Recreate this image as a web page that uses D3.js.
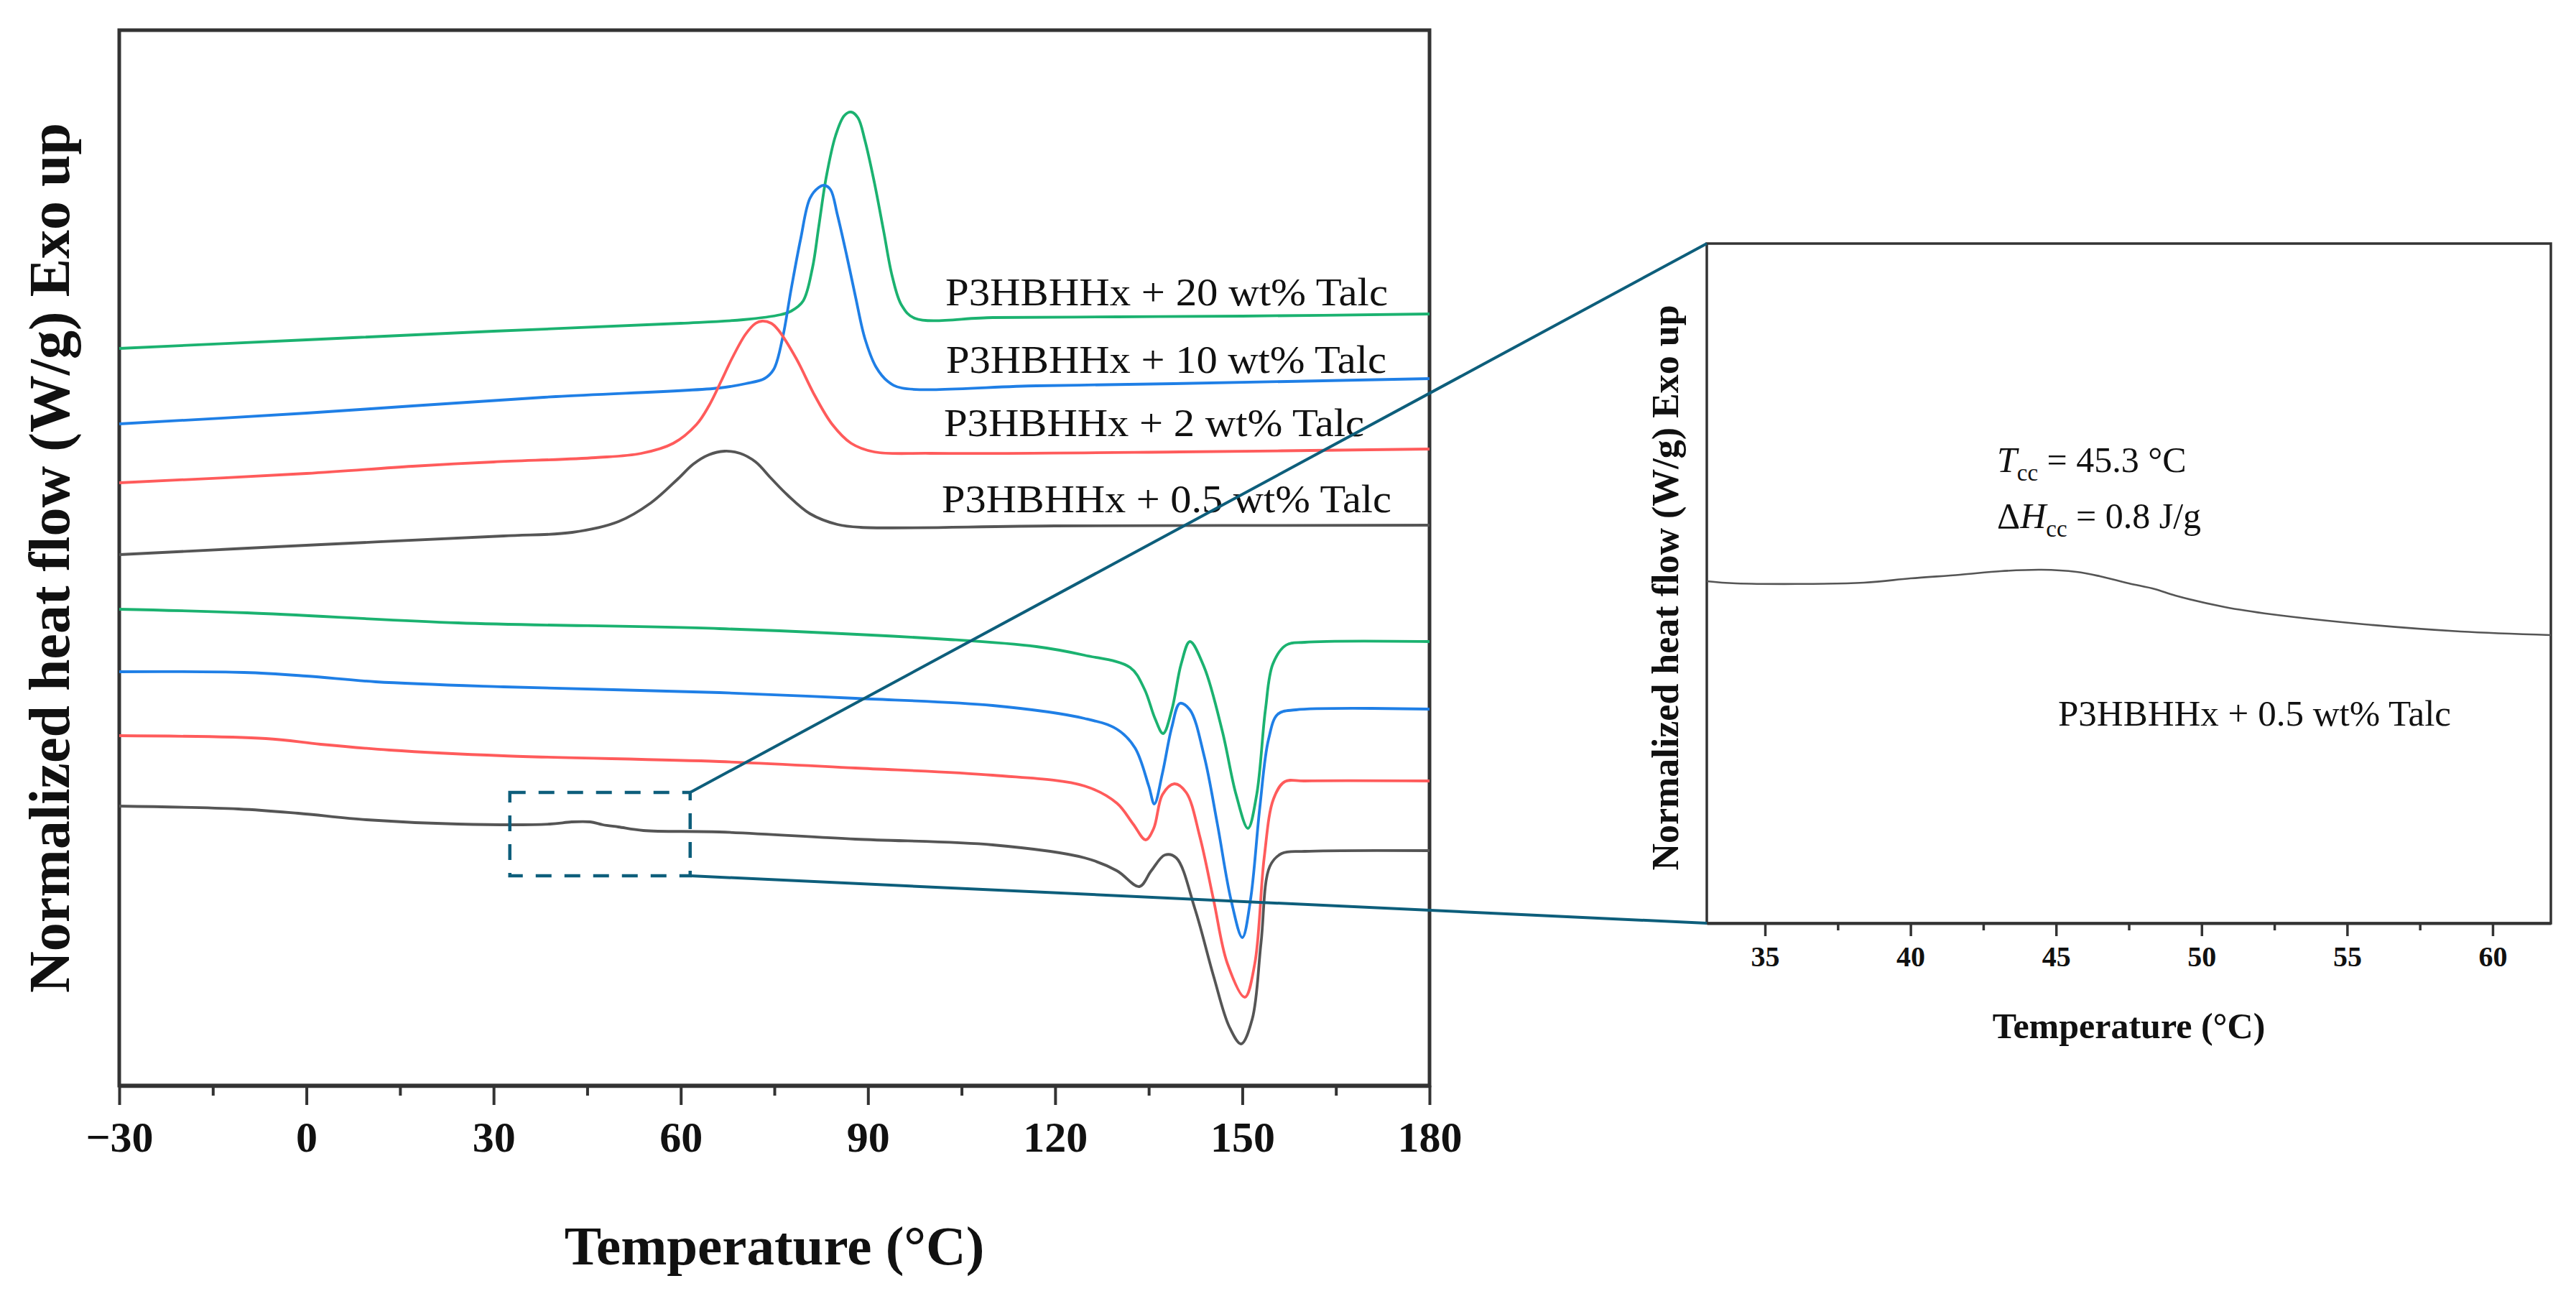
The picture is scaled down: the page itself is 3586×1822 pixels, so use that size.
<!DOCTYPE html>
<html><head><meta charset="utf-8">
<script src="https://cdn.jsdelivr.net/npm/d3@7/dist/d3.min.js"></script>
<style>body{margin:0;background:#fff}svg{display:block}</style>
</head><body>
<svg id="chart" width="3586" height="1822"></svg>
<script>
// ---------------- DATA (y in arbitrary stacked units) ----------------
// Cooling scans (exotherm up)
const cool20T = [-30,0,30,60,70,76,77.7,79.6,81.1,82.1,83.3,84.8,86.2,87.3,88.4,89.5,91.0,92.5,93.9,95.4,97.5,110,130,150,180];
const cool20V = [10.26,10.38,10.50,10.61,10.66,10.73,10.78,10.92,11.38,11.95,12.64,13.22,13.50,13.55,13.47,13.16,12.58,11.90,11.26,10.86,10.68,10.69,10.70,10.71,10.74];
const cool10T = [-30,0,17,40,66.2,70.4,73.4,74.9,76.3,77.7,79.2,80.7,82.1,83.0,84.0,85.1,86.6,88.0,89.5,91.3,93.2,95.4,117,139,180];
const cool10V = [9.21,9.36,9.46,9.59,9.71,9.77,9.84,9.97,10.40,11.09,11.78,12.35,12.50,12.53,12.47,12.12,11.55,10.98,10.40,10.00,9.80,9.71,9.74,9.77,9.84];
const cool2T  = [-30,0,17,30,46.3,53.7,58.8,62.5,64.5,66.5,68.2,70.4,72,73,74.5,75.6,78.5,81.5,84.3,87.3,91,100,140,180];
const cool2V  = [8.39,8.52,8.62,8.68,8.74,8.80,8.94,9.20,9.46,9.81,10.12,10.46,10.61,10.64,10.61,10.52,10.12,9.60,9.20,8.94,8.82,8.80,8.82,8.86];
const cool05T = [-30,2.3,31.6,42.6,50,55.2,59.6,62,64.5,67,69.5,72,74.5,77.1,80.7,85.1,88.8,120,180];
const cool05V = [7.39,7.53,7.65,7.70,7.85,8.11,8.45,8.65,8.78,8.83,8.80,8.68,8.45,8.22,7.96,7.81,7.77,7.79,7.80];
// Heating scans (endotherm down)
const heat20T = [-30,-9.5,24.3,66.2,102.8,117,124.7,132,134.3,136,137.3,138.7,140.2,141.6,143.9,146.8,149,150.9,152.3,153.7,154.9,157,160,180];
const heat20V = [6.63,6.58,6.44,6.36,6.21,6.11,5.99,5.82,5.52,5.11,4.90,5.23,5.87,6.18,5.82,4.93,4.05,3.58,4.05,5.23,5.87,6.13,6.17,6.18];
const heat10T = [-30,-10,0,11.1,31.6,66.2,88,110,124.7,129.9,132.8,135,135.9,137.2,138.7,140,141.6,143.9,146,148.2,150,151.3,152.8,154.2,155.7,158.6,180];
const heat10V = [5.76,5.75,5.70,5.62,5.55,5.47,5.39,5.29,5.11,4.96,4.70,4.17,3.92,4.35,4.99,5.32,5.23,4.58,3.64,2.58,2.06,2.58,3.87,4.82,5.17,5.23,5.24];
const heat2T  = [-30,-6.5,2.3,13.3,31.6,66.2,88,110,124.7,129.9,132.5,134.5,135.8,137.2,139.1,141,143.2,145.4,147.6,150.4,152,153.5,155,156.8,160,180];
const heat2V  = [4.87,4.83,4.75,4.67,4.59,4.51,4.42,4.32,4.17,3.93,3.64,3.42,3.58,4.05,4.20,4.08,3.46,2.58,1.70,1.23,1.70,3.17,3.99,4.23,4.24,4.24];
const heat05T = [-30,-10.9,-1.3,9.6,24.3,39,42.5,45.5,47.5,50,54,66.2,88,110,124.7,129.9,133.5,135.4,137.6,139.4,142.4,145.4,147.9,149.8,151.6,153,154.4,156.3,160,180];
const heat05V = [3.89,3.85,3.79,3.70,3.64,3.64,3.67,3.67,3.63,3.60,3.55,3.53,3.43,3.35,3.17,2.99,2.77,2.99,3.21,3.17,2.46,1.52,0.82,0.58,0.93,1.99,3.05,3.23,3.26,3.27];
// Inset: P3HBHHx + 0.5 wt% Talc, 33-62 °C
const insetT = [33,34,38.4,40,41.7,43.1,44.5,45.7,46.5,47.5,48.4,49.1,50.8,52.4,55.6,58.9,62];
const insetV = [4.76,4.73,4.74,4.80,4.85,4.90,4.92,4.89,4.83,4.73,4.65,4.56,4.40,4.30,4.16,4.06,4.01];
// Ticks and labels
const mainTicks = [-30,0,30,60,90,120,150,180];
const mainMinor = [-15,15,45,75,105,135,165];
const insetTicks = [35,40,45,50,55,60];
const insetMinor = [37.5,42.5,47.5,52.5,57.5];
const seriesNames = ["P3HBHHx + 20 wt% Talc","P3HBHHx + 10 wt% Talc","P3HBHHx + 2 wt% Talc","P3HBHHx + 0.5 wt% Talc"];
const seriesColors = ["#1bb270","#1f7fe6","#ff5b5b","#555555"];
const zoomBoxT = [32.6,61.5];
const zoomBoxV = [2.92,4.08];
const mainDomainX = [-30,180], mainDomainY = [0,14.69];
const insetDomainX = [33,62], insetDomainY = [0,9.46];

// ---------------- LAYOUT ----------------
const M = {l:166, r:1990, t:42, b:1511};
const I = {l:2376, r:3551, t:339, b:1285};
const SERIF = "'Liberation Serif','Times New Roman',serif";
const TEAL = "#0d5e7b";
const FRAME = "#333333";

const svg = d3.select("#chart");
const x = d3.scaleLinear(mainDomainX, [M.l, M.r]);
const y = d3.scaleLinear(mainDomainY, [M.b, M.t]);
const xi = d3.scaleLinear(insetDomainX, [I.l, I.r]);
const yi = d3.scaleLinear(insetDomainY, [I.b, I.t]);

const zip = (T,V) => T.map((t,i)=>[t,V[i]]);
const line = d3.line().x(d=>x(d[0])).y(d=>y(d[1])).curve(d3.curveCatmullRom.alpha(0.5));
const lineIn = d3.line().x(d=>xi(d[0])).y(d=>yi(d[1])).curve(d3.curveCatmullRom.alpha(0.5));

const curves = [
  [cool20T,cool20V,0],[cool10T,cool10V,1],[cool2T,cool2V,2],[cool05T,cool05V,3],
  [heat20T,heat20V,0],[heat10T,heat10V,1],[heat2T,heat2V,2],[heat05T,heat05V,3]
];

// main frame
svg.append("rect").attr("x",M.l).attr("y",M.t).attr("width",M.r-M.l).attr("height",M.b-M.t)
  .attr("fill","none").attr("stroke",FRAME).attr("stroke-width",5);

// curves
svg.append("g").selectAll("path").data(curves).join("path")
  .attr("d",d=>line(zip(d[0],d[1])))
  .attr("fill","none").attr("stroke",d=>seriesColors[d[2]]).attr("stroke-width",3.8)
  .attr("stroke-linejoin","round");

// main axis
const fmt = d => d<0 ? "\u2212"+Math.abs(d) : String(d);
const gx = svg.append("g").attr("transform",`translate(0,${M.b})`)
  .call(d3.axisBottom(x).tickValues(mainTicks).tickSize(27).tickSizeOuter(0).tickFormat(fmt));
gx.select(".domain").attr("stroke",FRAME).attr("stroke-width",5.5);
gx.selectAll(".tick line").attr("stroke",FRAME).attr("stroke-width",4);
gx.selectAll(".tick text").attr("y",92).attr("dy",0).attr("fill","#111")
  .attr("font-family",SERIF).attr("font-weight","bold").attr("font-size",60);
const gxm = svg.append("g").attr("transform",`translate(0,${M.b})`)
  .call(d3.axisBottom(x).tickValues(mainMinor).tickSize(14).tickSizeOuter(0).tickFormat(""));
gxm.select(".domain").remove();
gxm.selectAll(".tick line").attr("stroke",FRAME).attr("stroke-width",4);

// main axis titles
svg.append("text").attr("x",(M.l+M.r)/2).attr("y",1760).attr("text-anchor","middle")
  .attr("font-family",SERIF).attr("font-weight","bold").attr("font-size",77).attr("fill","#111")
  .text("Temperature (°C)");
svg.append("text").attr("transform",`translate(96,${(M.t+M.b)/2}) rotate(-90)`).attr("text-anchor","middle")
  .attr("font-family",SERIF).attr("font-weight","bold").attr("font-size",80).attr("fill","#111")
  .text("Normalized heat flow (W/g) Exo up");

// series labels
const labelPos = [[1316,425,616],[1317,519,613],[1314,607,585],[1311,713,626]];
svg.append("g").selectAll("text").data(seriesNames).join("text")
  .attr("x",(d,i)=>labelPos[i][0]).attr("y",(d,i)=>labelPos[i][1])
  .attr("textLength",(d,i)=>labelPos[i][2]).attr("lengthAdjust","spacingAndGlyphs")
  .attr("font-family",SERIF).attr("font-size",55).attr("fill","#111").text(d=>d);

// ---------------- INSET ----------------
svg.append("rect").attr("x",I.l).attr("y",I.t).attr("width",I.r-I.l).attr("height",I.b-I.t)
  .attr("fill","none").attr("stroke",FRAME).attr("stroke-width",3.5);
svg.append("path").attr("d",lineIn(zip(insetT,insetV)))
  .attr("fill","none").attr("stroke","#555").attr("stroke-width",2.6);
const gi = svg.append("g").attr("transform",`translate(0,${I.b})`)
  .call(d3.axisBottom(xi).tickValues(insetTicks).tickSize(18).tickSizeOuter(0));
gi.select(".domain").attr("stroke",FRAME).attr("stroke-width",4);
gi.selectAll(".tick line").attr("stroke",FRAME).attr("stroke-width",3.5);
gi.selectAll(".tick text").attr("y",60).attr("dy",0).attr("fill","#111")
  .attr("font-family",SERIF).attr("font-weight","bold").attr("font-size",40);
const gim = svg.append("g").attr("transform",`translate(0,${I.b})`)
  .call(d3.axisBottom(xi).tickValues(insetMinor).tickSize(10).tickSizeOuter(0).tickFormat(""));
gim.select(".domain").remove();
gim.selectAll(".tick line").attr("stroke",FRAME).attr("stroke-width",3.5);

svg.append("text").attr("x",(I.l+I.r)/2).attr("y",1445).attr("text-anchor","middle")
  .attr("font-family",SERIF).attr("font-weight","bold").attr("font-size",50).attr("fill","#111")
  .text("Temperature (°C)");
svg.append("text").attr("transform",`translate(2336,${(I.t+I.b)/2+6}) rotate(-90)`).attr("text-anchor","middle")
  .attr("font-family",SERIF).attr("font-weight","bold").attr("font-size",52).attr("fill","#111")
  .text("Normalized heat flow (W/g) Exo up");

// annotations
const a1 = svg.append("text").attr("x",2780).attr("y",657).attr("font-family",SERIF).attr("font-size",50).attr("fill","#111");
a1.append("tspan").attr("font-style","italic").text("T");
a1.append("tspan").attr("font-size",33).attr("dy",12).text("cc");
a1.append("tspan").attr("dy",-12).text(" = 45.3 °C");
const a2 = svg.append("text").attr("x",2780).attr("y",735).attr("font-family",SERIF).attr("font-size",50).attr("fill","#111");
a2.append("tspan").text("Δ");
a2.append("tspan").attr("font-style","italic").text("H");
a2.append("tspan").attr("font-size",33).attr("dy",12).text("cc");
a2.append("tspan").attr("dy",-12).text(" = 0.8 J/g");
svg.append("text").attr("x",2865).attr("y",1010).attr("font-family",SERIF).attr("font-size",51).attr("fill","#111")
  .text(seriesNames[3]);

// ---------------- ZOOM BOX & CONNECTORS ----------------
svg.append("rect").attr("x",x(zoomBoxT[0])).attr("y",y(zoomBoxV[1]))
  .attr("width",x(zoomBoxT[1])-x(zoomBoxT[0])).attr("height",y(zoomBoxV[0])-y(zoomBoxV[1]))
  .attr("fill","none").attr("stroke",TEAL).attr("stroke-width",4.5).attr("stroke-dasharray","22,18");
svg.append("line").attr("x1",x(zoomBoxT[1])).attr("y1",y(zoomBoxV[1])).attr("x2",I.l).attr("y2",I.t)
  .attr("stroke",TEAL).attr("stroke-width",4);
svg.append("line").attr("x1",x(zoomBoxT[1])).attr("y1",y(zoomBoxV[0])).attr("x2",I.l).attr("y2",I.b)
  .attr("stroke",TEAL).attr("stroke-width",4);
</script>
</body></html>
